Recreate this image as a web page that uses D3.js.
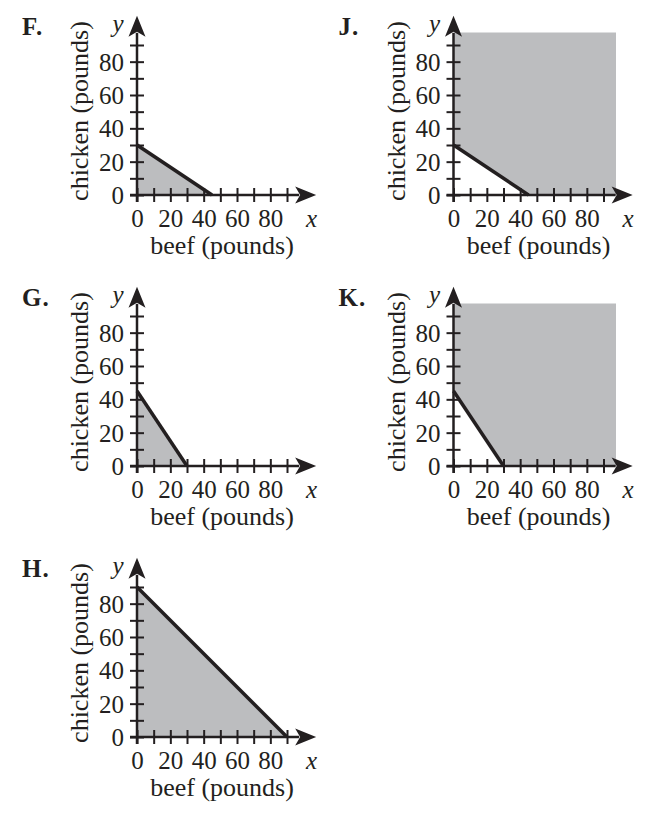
<!DOCTYPE html>
<html>
<head>
<meta charset="utf-8">
<script src="https://cdn.jsdelivr.net/npm/d3@7"></script>
<style>
  body { margin: 0; background: #fff; }
  text { font-family: "Liberation Serif", "Times New Roman", serif; fill: #231f20; }
  .tick line { stroke: #231f20; stroke-width: 2; }
</style>
</head>
<body>
<div id="chart"></div>
<script>
// data: one panel per answer choice, boundary line beef + chicken intercepts
var panels   = ["F", "G", "H", "J", "K"];
var beefInt  = [45, 30, 90, 45, 30];
var chickInt = [30, 45, 90, 30, 45];
var shade    = ["below", "below", "below", "above", "above"];
var tickVals = [0, 10, 20, 30, 40, 50, 60, 70, 80, 90];
var tickLbls = [0, 20, 40, 60, 80];
var shadeMax = 97.5;
var axisMax  = 107.5;

// panel origins on the page
var origins = {
    F: [137, 195], J: [453.5, 195],
    G: [137, 466], K: [453.5, 466],
    H: [137, 737]
};

var W = 648, H = 839,
    unit = 150 / 90,
    ink = "#231f20",
    gray = "#bcbdbf";

let svg = d3.select("#chart")
    .append("svg")
    .attr("width", W)
    .attr("height", H);

// arrowhead shape, tip at 0,0 pointing right
var arrow = "M0,0 L-21,-8.5 L-16,0 L-21,8.5 Z";

panels.forEach((p, i) => {

    var ox = origins[p][0], oy = origins[p][1];

    var x = d3.scaleLinear().domain([0, 90]).range([0, 90 * unit]);
    var y = d3.scaleLinear().domain([0, 90]).range([0, -90 * unit]);

    var g = svg.append("g")
        .attr("transform", "translate(" + ox + "," + oy + ")");

    // shaded region
    var poly;
    if (shade[i] == "below") {
        poly = [[0, 0], [0, chickInt[i]], [beefInt[i], 0]];
    } else {
        poly = [[0, chickInt[i]], [0, shadeMax], [shadeMax, shadeMax], [shadeMax, 0], [beefInt[i], 0]];
    }
    g.append("path")
        .attr("d", d3.line().x(d => x(d[0])).y(d => y(d[1]))(poly) + "Z")
        .attr("fill", gray);

    // x axis ticks (both sides) and labels
    var xb = g.append("g").call(d3.axisBottom(x).tickValues(tickVals).tickSize(7).tickPadding(7)
        .tickFormat(d => tickLbls.includes(d) ? d : ""));
    g.append("g").call(d3.axisTop(x).tickValues(tickVals).tickSize(7).tickFormat(""));

    // y axis ticks and labels
    var yl = g.append("g").call(d3.axisLeft(y).tickValues(tickVals).tickSize(7).tickPadding(6)
        .tickFormat(d => tickLbls.includes(d) ? d : ""));
    g.append("g").call(d3.axisRight(y).tickValues(tickVals).tickSize(7).tickFormat(""));

    g.selectAll(".domain").remove();
    // drop the empty labels
    g.selectAll(".tick text").filter(function() { return this.textContent == ""; }).remove();
    g.selectAll(".tick text")
        .attr("fill", ink)
        .style("font-size", "25px")
        .style("font-family", "'Liberation Serif', 'Times New Roman', serif");
    xb.selectAll(".tick text").attr("dy", "0.72em");
    yl.selectAll(".tick text").attr("dy", "0.34em");

    // axis lines
    var tip = axisMax * unit;
    g.append("line")
        .attr("x1", -7).attr("y1", 0)
        .attr("x2", tip - 17).attr("y2", 0)
        .attr("stroke", ink).attr("stroke-width", 2.5);
    g.append("line")
        .attr("x1", 0).attr("y1", 7)
        .attr("x2", 0).attr("y2", -tip + 17)
        .attr("stroke", ink).attr("stroke-width", 2.5);

    // arrowheads
    g.append("path").attr("d", arrow).attr("fill", ink)
        .attr("transform", "translate(" + tip + ",0)");
    g.append("path").attr("d", arrow).attr("fill", ink)
        .attr("transform", "translate(0," + (-tip) + ") rotate(-90)");

    // boundary line
    g.append("line")
        .attr("x1", x(0)).attr("y1", y(chickInt[i]))
        .attr("x2", x(beefInt[i])).attr("y2", y(0))
        .attr("stroke", ink)
        .attr("stroke-width", 3.5);

    // axis letters
    g.append("text")
        .text("x")
        .attr("x", 174.5)
        .attr("y", 32)
        .attr("text-anchor", "middle")
        .style("font-size", "25px")
        .style("font-style", "italic");
    g.append("text")
        .text("y")
        .attr("x", -19)
        .attr("y", -163)
        .attr("text-anchor", "middle")
        .style("font-size", "25px")
        .style("font-style", "italic");

    // axis titles
    g.append("text")
        .text("beef (pounds)")
        .attr("x", 85)
        .attr("y", 59)
        .attr("text-anchor", "middle")
        .style("font-size", "26px");
    g.append("text")
        .text("chicken (pounds)")
        .attr("transform", "translate(-49,-84) rotate(-90)")
        .attr("text-anchor", "middle")
        .style("font-size", "26px");

    // panel letter
    g.append("text")
        .text(p + ".")
        .attr("x", -115)
        .attr("y", -160)
        .style("font-size", "25px")
        .style("font-weight", "bold")
        .style("letter-spacing", "1px");
});
</script>
</body>
</html>
